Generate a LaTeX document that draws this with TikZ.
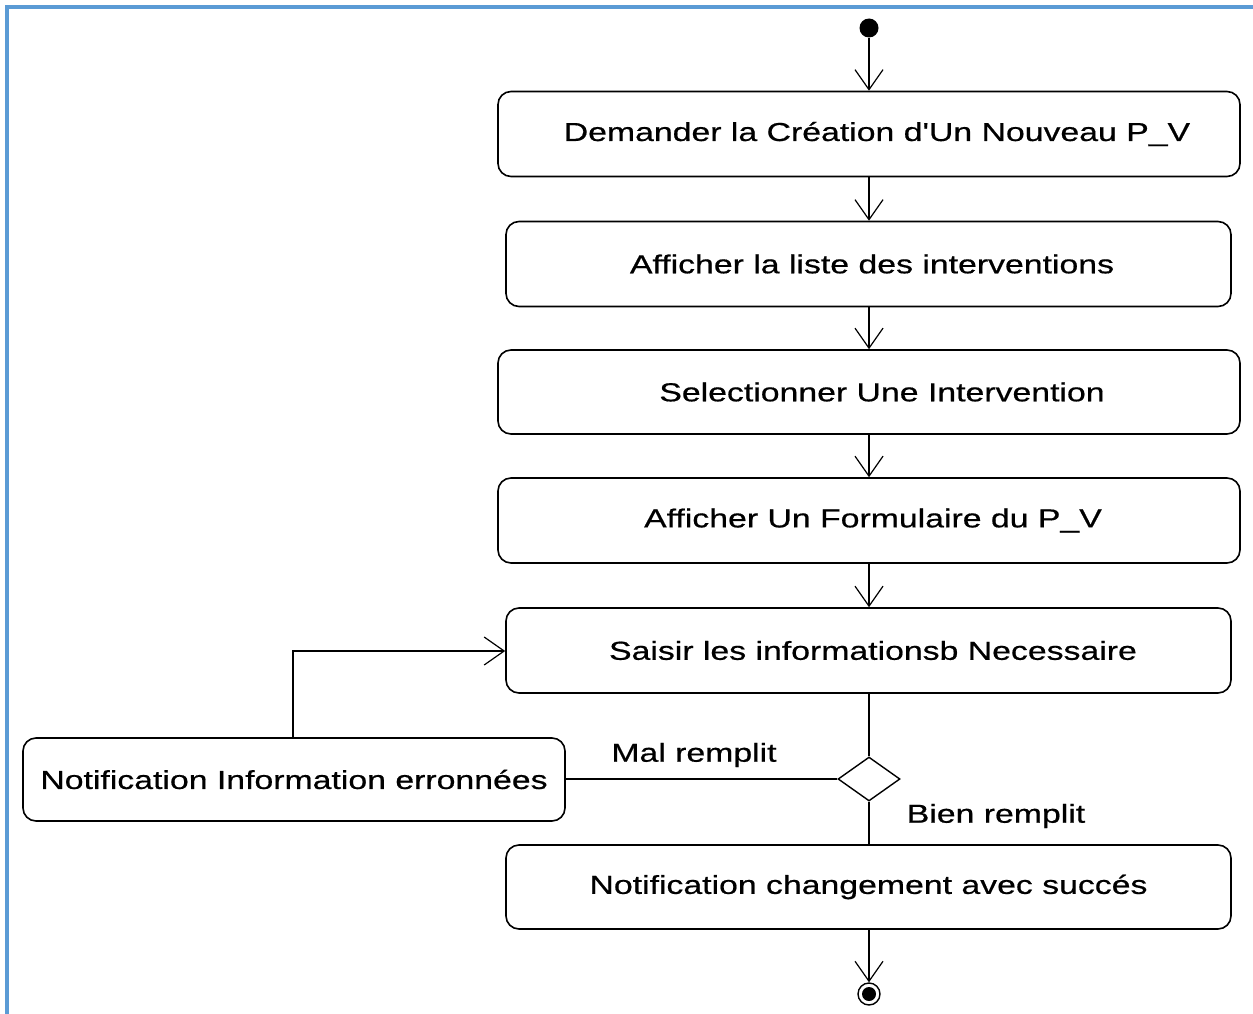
\documentclass[tikz,border=0pt]{standalone}
\usepackage{fontspec}
\setmainfont{Liberation Sans}
\newfontfamily\umlfont[FakeStretch=1.3,FakeBold=0.6]{Liberation Sans}
\usetikzlibrary{arrows.meta,shapes.geometric}
\definecolor{framebl}{RGB}{91,155,213}
\newcommand{\lead}[1]{\hspace*{#1pt}}
\begin{document}
\begin{tikzpicture}[x=1pt,y=-1pt,
  act/.style={draw, line width=1.6pt, rounded corners=13pt, fill=white,
    minimum height=85pt, font=\umlfont\fontsize{26}{28}\selectfont, inner sep=0pt},
  flow/.style={line width=1.4pt, -{Straight Barb[length=20pt,width=28pt,line width=1.2pt]}},
  plain/.style={line width=1.4pt},
  lbl/.style={font=\umlfont\fontsize{26}{28}\selectfont, inner sep=0pt}]
\useasboundingbox (0,0) rectangle (1253,1014);
% frame
\draw[framebl, line width=4pt] (7,1014) -- (7,7) -- (1253,7);
% start / end
\node[circle, fill=black, minimum size=19pt, inner sep=0pt] (start) at (869,28) {};
\node[circle, draw, line width=1.4pt, minimum size=22pt, inner sep=0pt] (stop) at (869,994) {};
\fill (stop.center) circle (7pt);
% activities
\node[act, minimum width=742pt] (a1) at (869,134) {\lead{16}Demander la Création d'Un Nouveau P\_V};
\node[act, minimum width=725pt] (a2) at (868.5,264) {\lead{7}Afficher la liste des interventions};
\node[act, minimum width=742pt, minimum height=84pt] (a3) at (869,392) {\lead{26}Selectionner Une Intervention};
\node[act, minimum width=742pt] (a4) at (869,520.5) {\lead{8}Afficher Un Formulaire du P\_V};
\node[act, minimum width=725pt] (a5) at (868.5,650.5) {\lead{9}Saisir les informationsb Necessaire};
\node[act, minimum width=542pt, minimum height=83pt] (err) at (294,779.5) {Notification Information erronnées};
\node[act, minimum width=725pt, minimum height=84pt] (ok) at (868.5,887) {Notification changement avec succés};
% decision
\node[diamond, draw, line width=1.4pt, fill=white, minimum width=62pt, minimum height=44pt, inner sep=0pt] (dec) at (869,779) {};
% connectors
\draw[flow] (start) -- (a1.north -| start);
\draw[flow] (a1.south -| start) -- (a2.north -| start);
\draw[flow] (a2.south -| start) -- (a3.north -| start);
\draw[flow] (a3.south -| start) -- (a4.north -| start);
\draw[flow] (a4.south -| start) -- (a5.north -| start);
\draw[plain] (a5.south -| start) -- (dec.north);
\draw[plain] (dec.west) -- (err.east |- dec.west);
\draw[plain] (dec.south) -- (ok.north -| dec.south);
\draw[flow] (err.north -| 293,0) -- (293,651) -- (a5.west |- 0,651);
\draw[flow] (ok.south -| start) -- (stop.north);
% guard labels
\node[lbl] (mal) at (694,755) {Mal remplit};
\node[lbl] (bien) at (996,816) {Bien remplit};
\end{tikzpicture}
\end{document}
